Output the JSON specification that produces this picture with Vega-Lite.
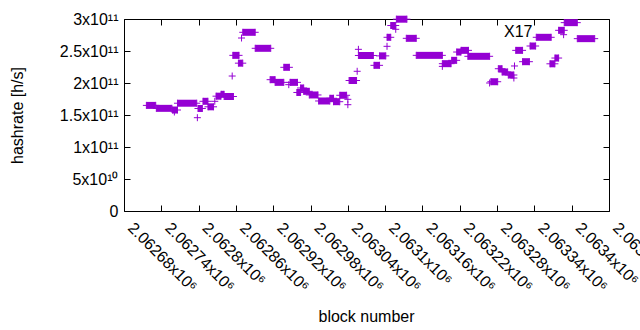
{
  "$schema": "https://vega.github.io/schema/vega-lite/v6.json",
  "width": 485,
  "height": 192,
  "autosize": {"type": "none"},
  "padding": {"left": 124, "top": 19, "right": 31, "bottom": 119},
  "background": "white",
  "config": {
    "view": {"stroke": "#000", "strokeWidth": 1},
    "font": "Liberation Sans",
    "axis": {
      "labelFont": "Liberation Sans", "titleFont": "Liberation Sans",
      "labelFontSize": 16, "titleFontSize": 16,
      "labelColor": "#000", "titleColor": "#000", "titleFontWeight": "normal",
      "tickColor": "#000", "domain": false, "grid": false,
      "labelOverlap": false, "labelFlush": false
    }
  },
  "datasets": {
    "runs": [
      {"b0": 2062716, "b1": 2062731, "h": 1.65e11},
      {"b0": 2062732, "b1": 2062757, "h": 1.604e11},
      {"b0": 2062758, "b1": 2062766, "h": 1.578e11},
      {"b0": 2062766, "b1": 2062797, "h": 1.684e11},
      {"b0": 2062799, "b1": 2062806, "h": 1.602e11},
      {"b0": 2062807, "b1": 2062815, "h": 1.714e11},
      {"b0": 2062815, "b1": 2062824, "h": 1.628e11},
      {"b0": 2062828, "b1": 2062836, "h": 1.794e11},
      {"b0": 2062836, "b1": 2062841, "h": 1.823e11},
      {"b0": 2062841, "b1": 2062856, "h": 1.789e11},
      {"b0": 2062855, "b1": 2062865, "h": 2.432e11},
      {"b0": 2062864, "b1": 2062871, "h": 2.31e11},
      {"b0": 2062871, "b1": 2062891, "h": 2.792e11},
      {"b0": 2062891, "b1": 2062916, "h": 2.542e11},
      {"b0": 2062915, "b1": 2062923, "h": 2.052e11},
      {"b0": 2062923, "b1": 2062937, "h": 2.01e11},
      {"b0": 2062937, "b1": 2062946, "h": 2.245e11},
      {"b0": 2062947, "b1": 2062959, "h": 2.01e11},
      {"b0": 2062958, "b1": 2062964, "h": 1.852e11},
      {"b0": 2062964, "b1": 2062969, "h": 1.922e11},
      {"b0": 2062969, "b1": 2062978, "h": 1.87e11},
      {"b0": 2062978, "b1": 2062992, "h": 1.813e11},
      {"b0": 2062993, "b1": 2063011, "h": 1.719e11},
      {"b0": 2063011, "b1": 2063017, "h": 1.761e11},
      {"b0": 2063017, "b1": 2063027, "h": 1.708e11},
      {"b0": 2063027, "b1": 2063038, "h": 1.808e11},
      {"b0": 2063042, "b1": 2063054, "h": 2.039e11},
      {"b0": 2063057, "b1": 2063081, "h": 2.43e11},
      {"b0": 2063082, "b1": 2063091, "h": 2.276e11},
      {"b0": 2063091, "b1": 2063101, "h": 2.424e11},
      {"b0": 2063103, "b1": 2063109, "h": 2.714e11},
      {"b0": 2063109, "b1": 2063117, "h": 2.898e11},
      {"b0": 2063118, "b1": 2063135, "h": 2.997e11},
      {"b0": 2063134, "b1": 2063150, "h": 2.698e11},
      {"b0": 2063150, "b1": 2063192, "h": 2.432e11},
      {"b0": 2063192, "b1": 2063206, "h": 2.302e11},
      {"b0": 2063207, "b1": 2063215, "h": 2.354e11},
      {"b0": 2063215, "b1": 2063222, "h": 2.484e11},
      {"b0": 2063222, "b1": 2063234, "h": 2.51e11},
      {"b0": 2063233, "b1": 2063268, "h": 2.417e11},
      {"b0": 2063270, "b1": 2063281, "h": 2.02e11},
      {"b0": 2063282, "b1": 2063288, "h": 2.223e11},
      {"b0": 2063288, "b1": 2063297, "h": 2.172e11},
      {"b0": 2063298, "b1": 2063307, "h": 2.125e11},
      {"b0": 2063310, "b1": 2063321, "h": 2.51e11},
      {"b0": 2063321, "b1": 2063332, "h": 2.333e11},
      {"b0": 2063333, "b1": 2063342, "h": 2.578e11},
      {"b0": 2063343, "b1": 2063367, "h": 2.714e11},
      {"b0": 2063365, "b1": 2063373, "h": 2.3e11},
      {"b0": 2063373, "b1": 2063379, "h": 2.39e11},
      {"b0": 2063379, "b1": 2063388, "h": 2.823e11},
      {"b0": 2063388, "b1": 2063409, "h": 2.943e11},
      {"b0": 2063409, "b1": 2063437, "h": 2.693e11}
    ],
    "singles": [
      {"b": 2062761, "h": 1.547e11},
      {"b": 2062798, "h": 1.458e11},
      {"b": 2062826, "h": 1.714e11},
      {"b": 2062854, "h": 2.109e11},
      {"b": 2062869, "h": 2.703e11},
      {"b": 2062945, "h": 1.974e11},
      {"b": 2063040, "h": 1.745e11},
      {"b": 2063040, "h": 1.661e11},
      {"b": 2063055, "h": 2.183e11},
      {"b": 2063057, "h": 2.526e11},
      {"b": 2063103, "h": 2.573e11},
      {"b": 2063117, "h": 2.839e11},
      {"b": 2063192, "h": 2.26e11},
      {"b": 2063268, "h": 2.0e11},
      {"b": 2063307, "h": 2.078e11},
      {"b": 2063308, "h": 2.266e11},
      {"b": 2063387, "h": 2.755e11}
    ],
    "key": [{"label": "X17", "b": 2063337, "h": 2.797e11}]
  },
  "layer": [
    {
      "data": {"name": "runs"},
      "mark": {"type": "rule", "strokeWidth": 7, "color": "#9400D3", "strokeCap": "butt"},
      "encoding": {
        "x": {
          "field": "b0", "type": "quantitative",
          "scale": {"domain": [2062680, 2063460], "nice": false, "zero": false},
          "axis": {
            "orient": "bottom",
            "values": [2062680, 2062740, 2062800, 2062860, 2062920, 2062980, 2063040, 2063100, 2063160, 2063220, 2063280, 2063340, 2063400, 2063460],
            "labelExpr": "format(datum.value/1000000, '.5~f') + 'x10⁶'",
            "labelAngle": 45, "labelAlign": "left", "labelBaseline": "middle",
            "labelPadding": 20, "labelOffset": 6, "tickSize": -6,
            "title": "block number", "titleX": 242, "titleY": 105, "titleBaseline": "middle"
          }
        },
        "x2": {"field": "b1"},
        "y": {
          "field": "h", "type": "quantitative",
          "scale": {"domain": [0, 300000000000], "nice": false},
          "axis": {
            "orient": "left",
            "values": [0, 50000000000, 100000000000, 150000000000, 200000000000, 250000000000, 300000000000],
            "labelExpr": "datum.value == 0 ? '0' : (datum.value >= 100000000000 ? format(datum.value/100000000000, '~g') + 'x10¹¹' : format(datum.value/10000000000, '~g') + 'x10¹⁰')",
            "tickSize": -6, "labelPadding": 12,
            "title": "hashrate [h/s]", "titleX": -107, "titleY": 96, "titleBaseline": "middle", "titleAngle": -90
          }
        }
      }
    },
    {
      "data": {"name": "runs"},
      "mark": {"type": "point", "shape": "M-1,0L1,0M0,-1L0,1", "size": 49, "filled": false, "strokeWidth": 1, "color": "#9400D3", "opacity": 1},
      "encoding": {
        "x": {"field": "b0", "type": "quantitative", "axis": null},
        "y": {"field": "h", "type": "quantitative", "axis": null}
      }
    },
    {
      "data": {"name": "runs"},
      "mark": {"type": "point", "shape": "M-1,0L1,0M0,-1L0,1", "size": 49, "filled": false, "strokeWidth": 1, "color": "#9400D3", "opacity": 1},
      "encoding": {
        "x": {
          "field": "b1", "type": "quantitative",
          "axis": {
            "orient": "top",
            "values": [2062680, 2062740, 2062800, 2062860, 2062920, 2062980, 2063040, 2063100, 2063160, 2063220, 2063280, 2063340, 2063400, 2063460],
            "labels": false, "tickSize": -6, "title": null
          }
        },
        "y": {
          "field": "h", "type": "quantitative",
          "axis": {
            "orient": "right",
            "values": [0, 50000000000, 100000000000, 150000000000, 200000000000, 250000000000, 300000000000],
            "labels": false, "tickSize": -6, "title": null
          }
        }
      }
    },
    {
      "data": {"name": "singles"},
      "mark": {"type": "point", "shape": "M-1,0L1,0M0,-1L0,1", "size": 49, "filled": false, "strokeWidth": 1, "color": "#9400D3", "opacity": 1},
      "encoding": {
        "x": {"field": "b", "type": "quantitative", "axis": null},
        "y": {"field": "h", "type": "quantitative", "axis": null}
      }
    },
    {
      "data": {"name": "key"},
      "mark": {"type": "text", "align": "right", "baseline": "middle", "font": "Liberation Sans", "fontSize": 16, "color": "#000"},
      "encoding": {
        "x": {"field": "b", "type": "quantitative", "axis": null},
        "y": {"field": "h", "type": "quantitative", "axis": null},
        "text": {"field": "label"}
      }
    }
  ],
  "resolve": {"axis": {"x": "independent", "y": "independent"}}
}
